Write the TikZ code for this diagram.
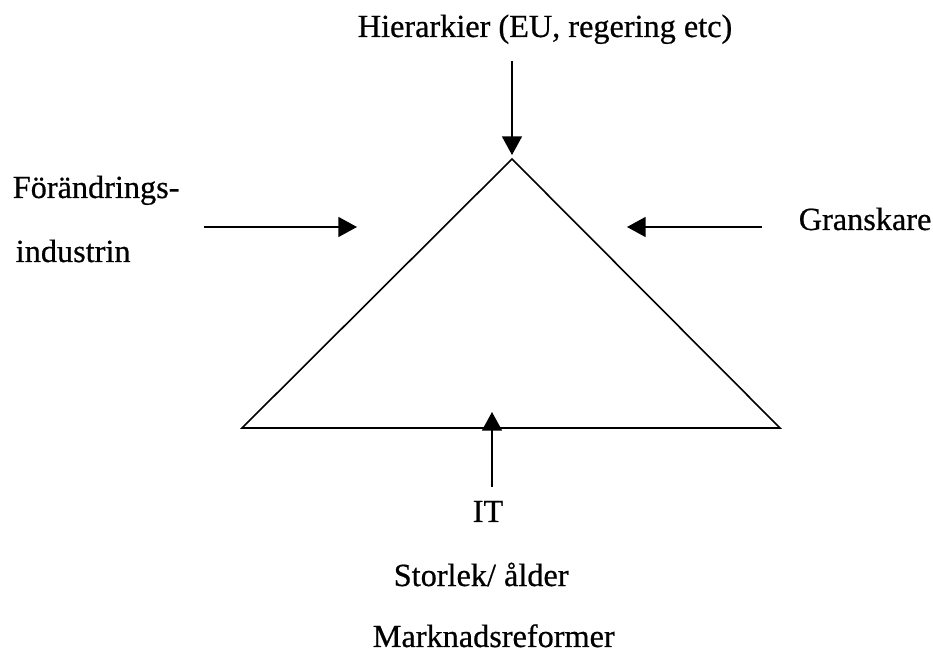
\documentclass[tikz,border=0pt]{standalone}
\usepackage{fontspec}
\setmainfont[FakeBold=0.6]{Liberation Serif}
\usepackage{tikz}
\usetikzlibrary{positioning,arrows.meta}

\begin{document}
\begin{tikzpicture}[
        x=0.75pt, y=-0.75pt,
        line width=1.2pt,
        factor/.style={inner sep=0pt, anchor=base west, font=\fontsize{24.2pt}{30pt}\selectfont},
        push/.style={-{Triangle[length=14pt, width=15pt]}}
    ]
        \useasboundingbox (0,0) rectangle (933,652);
        % triangle
        \coordinate (top) at (512,159);
        \coordinate (bl) at (242,428);
        \coordinate (br) at (780,428);
        \draw (top) -- (br) -- (bl) -- cycle;
        % labels
        \node[factor] (hier) at (357,37) {Hierarkier (EU, regering etc)};
        \node[factor] (forand) at (12,198) {Förändrings-};
        \node[factor] (indu) at (15,262) {industrin};
        \node[factor] (gransk) at (798,230) {Granskare};
        \node[factor] (it) at (472,522) {IT};
        \node[factor] (storlek) at (393,586) {Storlek/ ålder};
        \node[factor] (marknad) at (372,647) {Marknadsreformer};
        % arrow ends
        \coordinate (hierTail) at (512,61);
        \coordinate (hierTip) at (512,155);
        \coordinate (leftTail) at (204,227);
        \coordinate (leftTip) at (357,227);
        \coordinate (rightTail) at (762,227);
        \coordinate (rightTip) at (627,227);
        \coordinate (itTail) at (492,487);
        \coordinate (itTip) at (492,412);
        \draw[push] (hierTail) -- (hierTip);
        \draw[push] (leftTail) -- (leftTip);
        \draw[push] (rightTail) -- (rightTip);
        \draw[push] (itTail) -- (itTip);
    \end{tikzpicture}
\end{document}
